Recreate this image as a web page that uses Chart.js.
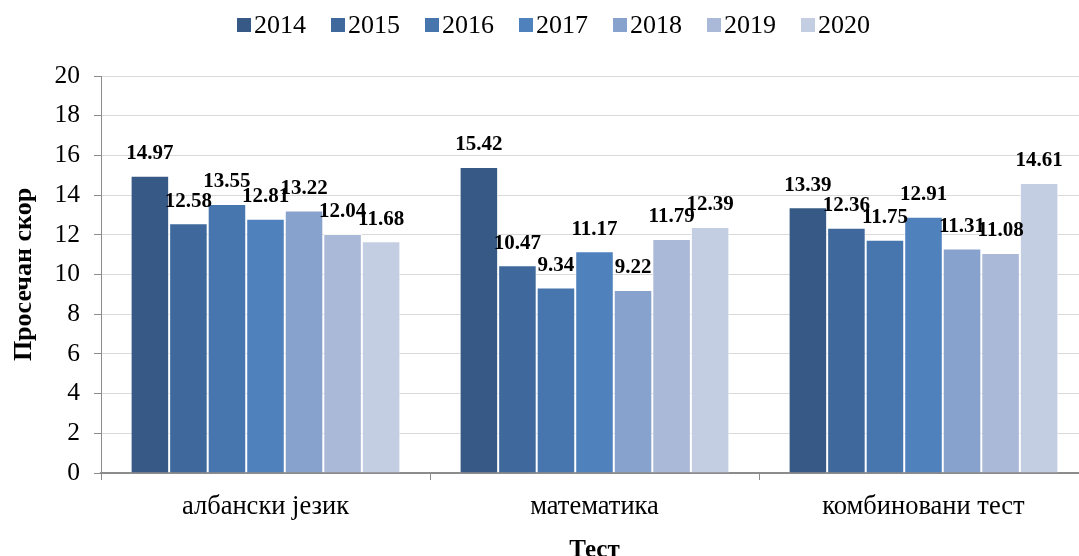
<!DOCTYPE html>
<html>
<head>
<meta charset="utf-8">
<script src="https://cdn.jsdelivr.net/npm/chart.js@4.4.1/dist/chart.umd.min.js"></script>
<style>
  html, body { margin: 0; padding: 0; background: #fff; overflow: hidden; }
  #wrap { width: 1090px; height: 556px; }
</style>
</head>
<body>
<div id="wrap"><canvas id="theChart" width="1090" height="556"></canvas></div>
<script>
const categories = ["албански језик", "математика", "комбиновани тест"];
const years = ["2014", "2015", "2016", "2017", "2018", "2019", "2020"];

const scores2014 = [14.97, 15.42, 13.39];
const scores2015 = [12.58, 10.47, 12.36];
const scores2016 = [13.55, 9.34, 11.75];
const scores2017 = [12.81, 11.17, 12.91];
const scores2018 = [13.22, 9.22, 11.31];
const scores2019 = [12.04, 11.79, 11.08];
const scores2020 = [11.68, 12.39, 14.61];

const yMin = 0;
const yMax = 20;
const yStep = 2;

const yTitle = "Просечан скор";
const xTitle = "Тест";

const BAR_COLORS = [
  "#365a85", // 2014
  "#3f699d", // 2015
  "#4775ae", // 2016
  "#4f81bd", // 2017
  "#87a2cc", // 2018
  "#aab9d7", // 2019
  "#c4cee2", // 2020
];

const SERIF = "'Liberation Serif', 'Times New Roman', serif";

const allScores = [scores2014, scores2015, scores2016, scores2017, scores2018, scores2019, scores2020];

const data = {
  labels: categories,
  datasets: years.map((y, i) => ({
    label: y,
    data: allScores[i],
    backgroundColor: BAR_COLORS[i],
    borderColor: "rgba(255,255,255,0.75)",
    borderWidth: 1,
    borderSkipped: "bottom",
    categoryPercentage: 0.82,
    barPercentage: 1.0,
  })),
};

// legend drawn by hand: small square, tight gap, then the year
const customLegend = {
  id: "customLegend",
  afterDraw(chart) {
    const ctx = chart.ctx;
    ctx.save();
    ctx.font = "26px " + SERIF;
    ctx.textBaseline = "middle";
    ctx.textAlign = "left";
    let x = 237;
    chart.data.datasets.forEach((ds) => {
      ctx.fillStyle = ds.backgroundColor;
      ctx.fillRect(x, 18, 14, 14);
      x += 14 + 3;
      ctx.fillStyle = "#000";
      ctx.fillText(ds.label, x, 26);
      x += ctx.measureText(ds.label).width + 25;
    });
    ctx.restore();
  },
};

const barLabels = {
  id: "barLabels",
  afterDatasetsDraw(chart) {
    const ctx = chart.ctx;
    ctx.save();
    ctx.font = "bold 21px " + SERIF;
    ctx.fillStyle = "#000";
    ctx.textAlign = "center";
    ctx.textBaseline = "middle";
    chart.data.datasets.forEach((ds, i) => {
      const meta = chart.getDatasetMeta(i);
      meta.data.forEach((bar, j) => {
        ctx.fillText(ds.data[j].toFixed(2), bar.x, bar.y - 22);
      });
    });
    ctx.restore();
  },
};

const config = {
  type: "bar",
  data: data,
  options: {
    responsive: false,
    animation: false,
    layout: {
      padding: { top: 76, right: 2, left: 0, bottom: 0 },
    },
    plugins: {
      legend: { display: false },
      tooltip: { enabled: false },
    },
    scales: {
      x: {
        afterFit(scale) { scale.height = 83; },
        grid: {
          offset: true,
          drawOnChartArea: false,
          tickLength: 7,
          tickColor: "#8c8c8c",
        },
        border: { color: "#8c8c8c", width: 2 },
        ticks: {
          color: "#000",
          padding: 11,
          font: { family: SERIF, size: 26.5 },
        },
        title: {
          display: true,
          text: xTitle,
          color: "#000",
          font: { family: SERIF, size: 25, weight: "bold", lineHeight: 1 },
          padding: { top: 0, bottom: -7 },
        },
      },
      y: {
        min: yMin,
        max: yMax,
        afterFit(scale) { scale.width = 101; },
        ticks: {
          stepSize: yStep,
          color: "#000",
          padding: 14,
          font: { family: SERIF, size: 25.5 },
        },
        grid: {
          color: "#d9d9d9",
          lineWidth: 1,
          tickLength: 7,
          tickColor: "#8c8c8c",
        },
        border: { color: "#8c8c8c", width: 1 },
        title: {
          display: true,
          text: yTitle,
          color: "#000",
          font: { family: SERIF, size: 26, weight: "bold", lineHeight: 1 },
          padding: { top: 11, bottom: 0 },
        },
      },
    },
  },
  plugins: [customLegend, barLabels],
};

const theChart = new Chart(document.getElementById("theChart"), config);
</script>
</body>
</html>
